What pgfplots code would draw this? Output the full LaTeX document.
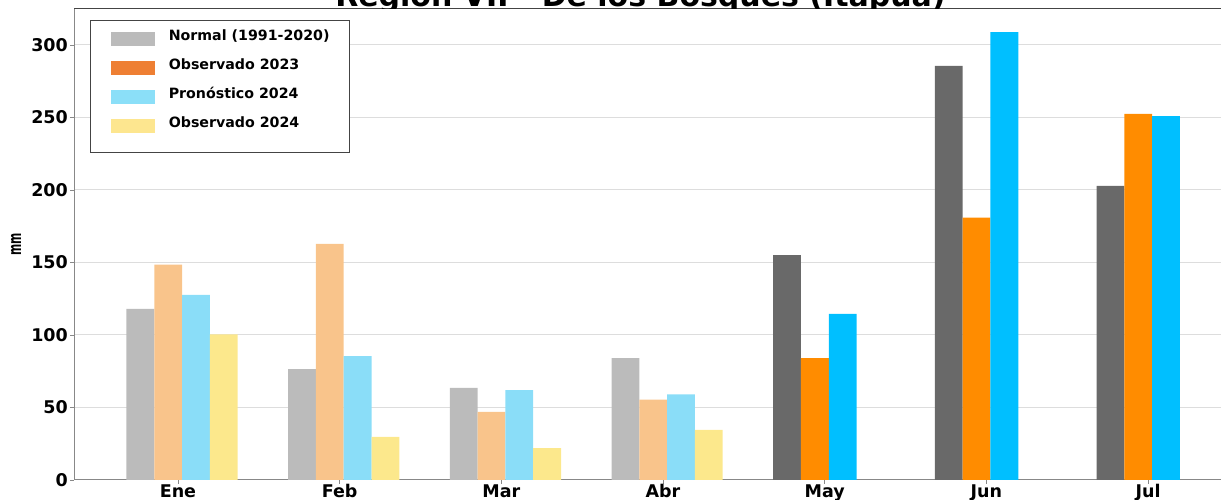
\documentclass[border=0pt]{standalone}
\usepackage{fontspec}
\setmainfont{DejaVu Sans}
\usepackage{pgfplots}
\pgfplotsset{compat=1.18}
\definecolor{gfull}{HTML}{696969}
\definecolor{ofull}{HTML}{FF8C00}
\definecolor{bfull}{HTML}{00BFFF}
\definecolor{glight}{HTML}{BBBBBB}
\definecolor{olight}{HTML}{F9C48B}
\definecolor{blight}{HTML}{8ADDF8}
\definecolor{ylight}{HTML}{FCE88C}
\definecolor{legorange}{HTML}{EE7F33}
\definecolor{legblue}{HTML}{8BDFF8}
\definecolor{legyellow}{HTML}{FDE68F}
\definecolor{legframe}{HTML}{444444}
\definecolor{spine}{HTML}{888888}
\definecolor{gridc}{HTML}{DDDDDD}
\begin{document}
\begin{tikzpicture}
\begin{axis}[
  name=ax,
  at={(74pt,20pt)}, anchor=south west,
  scale only axis, width=1147pt, height=471pt,
  xmin=-0.643, xmax=6.451, ymin=0, ymax=324.8,
  axis x line*=bottom, axis y line*=left,
  xtick pos=bottom, ytick pos=left,
  axis line style={spine, line width=1pt},
  tick align=outside, major tick length=4pt,
  tick style={spine, line width=0.8pt},
  xtick={0,1,2,3,4,5,6},
  xticklabels={Ene,Feb,Mar,Abr,May,Jun,Jul},
  ytick={0,50,100,150,200,250,300},
  ymajorgrids, grid style={gridc, line width=1pt},
  /pgf/number format/assume math mode=true,
  tick label style={font=\fontsize{17.5}{20}\selectfont\bfseries},
  xticklabel style={inner sep=0pt, text height=12.8pt, text depth=0pt, anchor=north, yshift=-1pt},
  yticklabel style={inner sep=2pt},
  ylabel={mm},
  ylabel style={at={(axis description cs:-0.0506,0.5)}, anchor=center, xscale=0.6, font=\fontsize{18}{20}\selectfont\bfseries},
  legend cell align=left,
  legend style={at={(axis description cs:0.01395,0.9766)}, anchor=north west,
    draw=legframe, line width=1.2pt, fill=white,
    inner xsep=20pt, inner ysep=10pt,
    font=\fontsize{14.2}{16}\selectfont\bfseries,
    nodes={inner sep=0pt, text height=10pt, text depth=15pt},
    row sep=4pt, column sep=14pt},
]
% Normal 1991-2020
\addplot[ybar, bar width=27.8pt, bar shift=-37.6pt, fill=glight, draw=none, forget plot]
  coordinates {(0,118) (1,76.5) (2,63.5) (3,84)};
\addplot[ybar, bar width=27.8pt, bar shift=-37.6pt, fill=gfull, draw=none, forget plot]
  coordinates {(4,155) (5,285.5) (6,202.8)};
% Observado 2023
\addplot[ybar, bar width=27.8pt, bar shift=-9.8pt, fill=olight, draw=none, forget plot]
  coordinates {(0,148.5) (1,162.8) (2,47) (3,55.5)};
\addplot[ybar, bar width=27.8pt, bar shift=-9.8pt, fill=ofull, draw=none, forget plot]
  coordinates {(4,84) (5,181) (6,252.5)};
% Pronostico 2024
\addplot[ybar, bar width=27.8pt, bar shift=18.0pt, fill=blight, draw=none, forget plot]
  coordinates {(0,127.6) (1,85.5) (2,62) (3,59)};
\addplot[ybar, bar width=27.8pt, bar shift=18.0pt, fill=bfull, draw=none, forget plot]
  coordinates {(4,114.5) (5,308.8) (6,251)};
% Observado 2024
\addplot[ybar, bar width=27.8pt, bar shift=45.8pt, fill=ylight, draw=none, forget plot]
  coordinates {(0,100.5) (1,29.7) (2,22) (3,34.5)};

\addlegendimage{legend image code/.code={\fill[glight] (0pt,-2pt) rectangle (43pt,11pt);}}
\addlegendentry{Normal (1991-2020)}
\addlegendimage{legend image code/.code={\fill[legorange] (0pt,-2pt) rectangle (43pt,11pt);}}
\addlegendentry{Observado 2023}
\addlegendimage{legend image code/.code={\fill[legblue] (0pt,-2pt) rectangle (43pt,11pt);}}
\addlegendentry{Pronóstico 2024}
\addlegendimage{legend image code/.code={\fill[legyellow] (0pt,-2pt) rectangle (43pt,11pt);}}
\addlegendentry{Observado 2024}

\draw[legframe, line width=1pt] (axis description cs:0,1) -- (axis description cs:1,1);
\end{axis}
\begin{scope}
\clip (0pt,491pt) rectangle (1221pt,530pt);
\node[anchor=base, inner sep=0pt, font=\fontsize{30}{34}\selectfont\bfseries] at (640.5pt,493.5pt) {Región VII - De los Bosques (Itapúa)};
\end{scope}
\pgfresetboundingbox
\path[use as bounding box] (0,0) rectangle (1221pt,500pt);
\end{tikzpicture}
\end{document}
